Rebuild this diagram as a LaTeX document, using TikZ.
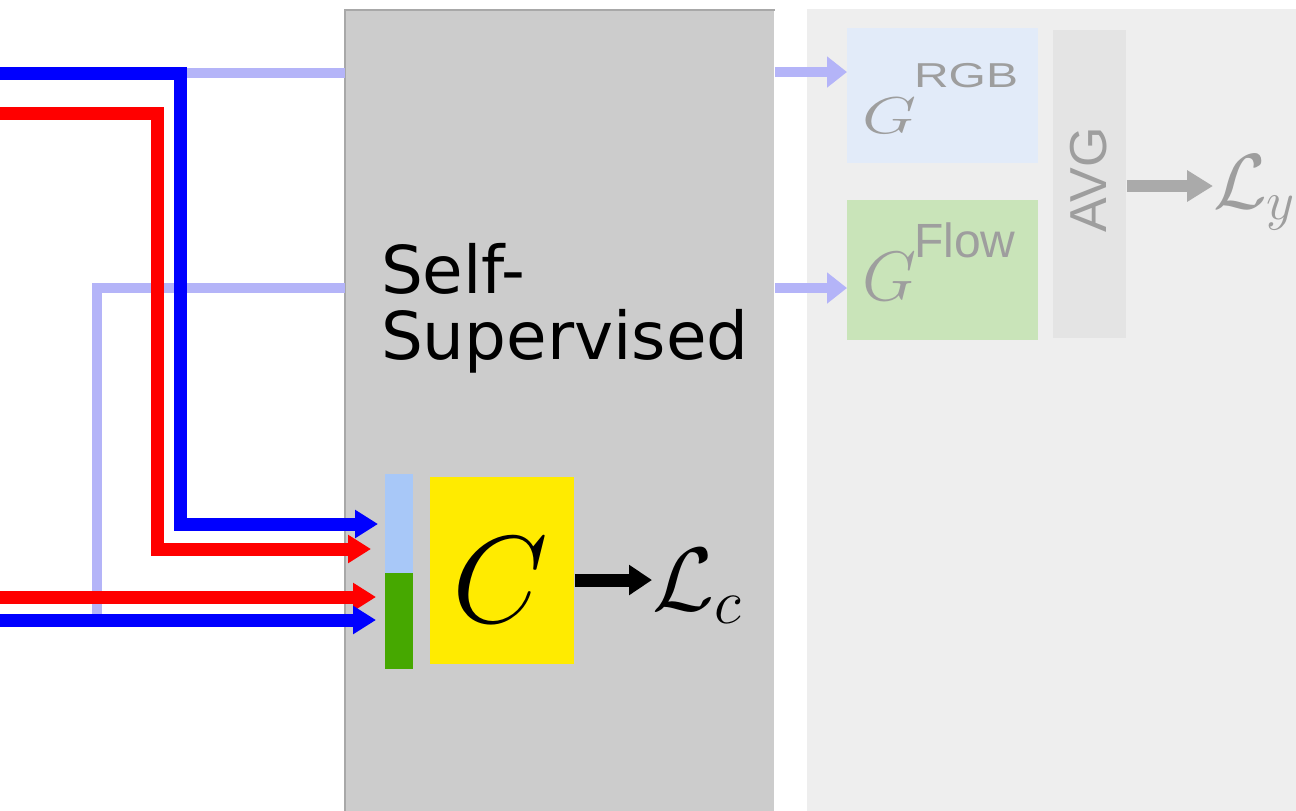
\RequirePackage{fix-cm}
\documentclass[tikz,border=0pt]{standalone}
\usepackage{fontspec}
\usepackage{graphicx}
\newfontfamily\verd{DejaVu Sans}
\newfontfamily\arialf{Liberation Sans}
\usetikzlibrary{arrows.meta}
\definecolor{ssgray}{HTML}{CCCCCC}
\definecolor{ssedge}{HTML}{A8A8A8}
\definecolor{panelc}{HTML}{EEEEEE}
\definecolor{lav}{HTML}{B4B4F8}
\definecolor{rgbbox}{HTML}{E2EBF9}
\definecolor{flowbox}{HTML}{C9E4B9}
\definecolor{avgbox}{HTML}{E4E4E4}
\definecolor{fade}{HTML}{9E9E9E}
\definecolor{fadearrow}{HTML}{AAAAAA}
\definecolor{lblue}{HTML}{A8C8F8}
\definecolor{lgreen}{HTML}{46A800}
\definecolor{cyel}{HTML}{FFEB00}
\definecolor{pblue}{HTML}{0000FF}
\definecolor{pred}{HTML}{FF0000}
\tikzset{
  block/.style={rectangle, draw=none, inner sep=0pt, anchor=north west},
  txt/.style={inner sep=0pt, outer sep=0pt},
  feed/.style={line width=6.5pt, line join=miter, -{Triangle[length=11.5pt,width=13.5pt]}},
  lavline/.style={lav, line width=5pt, line join=miter},
  lavarrow/.style={lav, line width=5pt, -{Triangle[length=10pt,width=15pt]}},
}
\begin{document}
\begin{tikzpicture}[x=0.5pt,y=-0.5pt]
\useasboundingbox (0,0) rectangle (1296,810);
% panels
\node[block, fill=panelc, minimum width=246.5pt, minimum height=403pt] (panel) at (807,9) {};
\node[block, fill=ssgray, minimum width=214.5pt, minimum height=401pt] (ssbox) at (345,10) {};
\draw[ssedge, line width=0.8pt] (ssbox.south west) -- (ssbox.north west) -- (ssbox.north east);
% right blocks
\node[block, fill=rgbbox, minimum width=95.5pt, minimum height=67.5pt] (grgb) at (847,28) {};
\node[block, fill=flowbox, minimum width=95.5pt, minimum height=70pt] (gflow) at (847,200) {};
\node[block, fill=avgbox, minimum width=36.5pt, minimum height=154pt] (avg) at (1053,30) {};
\node[txt, anchor=base west, text=fade] (grgbt) at (862,133)
  {\scalebox{1}[0.74]{\fontsize{35}{35}\selectfont$G$}\hspace{-1pt}\raisebox{23pt}{\scalebox{1}[0.72]{\arialf\fontsize{24}{24}\selectfont RGB}}};
\node[txt, anchor=base west, text=fade] (gflowt) at (862,300)
  {\fontsize{35}{35}\selectfont$G$\hspace{-1pt}\raisebox{21.5pt}{\arialf\fontsize{24}{24}\selectfont Flow}};
\node[txt, rotate=90, text=fade, font=\arialf\fontsize{26}{26}\selectfont] (avgt) at (1089,180) {AVG};
\node[txt, anchor=base west, text=fade, font=\fontsize{39}{39}\selectfont] (ly) at (1213,208) {$\mathcal{L}_y$};
\draw[fadearrow, line width=6pt, -{Triangle[length=13pt,width=15pt]}] (avg.east |- 0,186) -- (ly.west |- 0,186);
% self-supervised label
\node[txt, anchor=north west, align=left, font=\verd\fontsize{33}{33}\selectfont] (sst) at (381,243) {Self-\\Supervised};
% bars and C
\node[block, fill=lblue, minimum width=14pt, minimum height=49.5pt] (bar1) at (385,474) {};
\node[block, fill=lgreen, minimum width=14pt, minimum height=48pt] (bar2) at (385,573) {};
\node[block, fill=cyel, minimum width=72pt, minimum height=93.5pt] (cbox) at (430,477) {};
\node[txt, font=\fontsize{62}{62}\selectfont] (ct) at (500,580) {$C$};
\node[txt, anchor=base west, font=\fontsize{45}{45}\selectfont] (lc) at (652,610) {$\mathcal{L}_c$};
\draw[line width=6.5pt, -{Triangle[length=11.5pt,width=14.5pt]}] (cbox.east |- 0,580) -- (lc.west |- 0,580);
% coordinates for line routes
\coordinate (b1s) at (0,73);
\coordinate (b1c) at (180,73);
\coordinate (b1d) at (180,524);
\coordinate (r1s) at (0,113);
\coordinate (r1c) at (157,113);
\coordinate (r1d) at (157,549);
\coordinate (r2s) at (0,597);
\coordinate (b2s) at (0,620);
\coordinate (l2s) at (97,615);
\coordinate (l2c) at (97,288);
% lavender lines
\draw[lavline] (b1c) -- (ssbox.west |- b1c);
\draw[lavarrow] (ssbox.east |- 0,72) -- (grgb.west |- 0,72);
\draw[lavline] (l2s) -- (l2c) -- (ssbox.west |- l2c);
\draw[lavarrow] (ssbox.east |- l2c) -- (gflow.west |- l2c);
% colored feed lines
\draw[feed, pblue, shorten >=3.5pt] (b1s) -- (b1c) -- (b1d) -- (bar1.west |- b1d);
\draw[feed, pred, shorten >=7pt] (r1s) -- (r1c) -- (r1d) -- (bar1.west |- r1d);
\draw[feed, pred, shorten >=4.5pt] (r2s) -- (bar2.west |- r2s);
\draw[feed, pblue, shorten >=4.5pt] (b2s) -- (bar2.west |- b2s);
\end{tikzpicture}
\end{document}
